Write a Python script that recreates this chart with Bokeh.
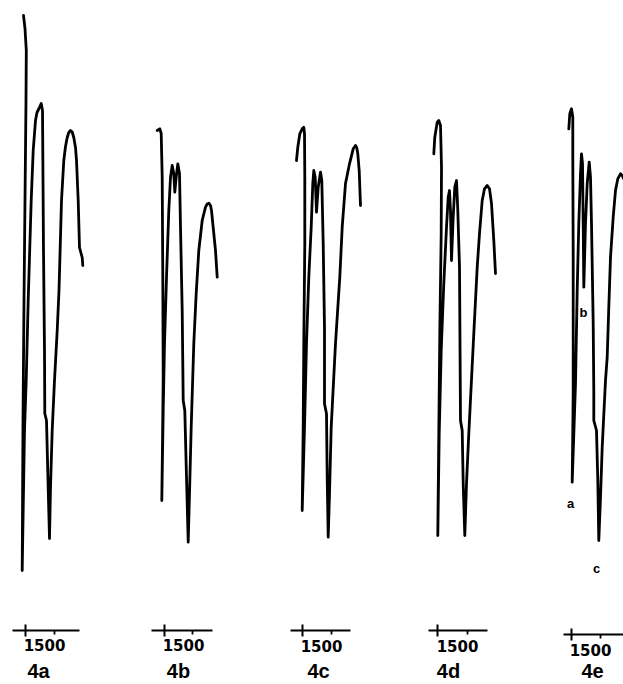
from bokeh.plotting import figure
from bokeh.models import Range1d
from bokeh.core.properties import value
from bokeh.embed import file_html
from bokeh.resources import INLINE

# ---- data (picture coordinates: x to the right, y downward) ----
panel_names = ["4a", "4b", "4c", "4d", "4e"]
tick_label = "1500"

x_4a = [23, 24.5, 25.8, 25.5, 24.5, 23.5, 22.5, 21.7, 23, 24, 25.7, 27.7, 30.7, 32.7, 35, 36.5, 38.5,
        40.7, 42, 42.3, 43, 44, 44.3, 46, 47.5, 49, 50, 51.7, 54, 56.7, 58.5, 61, 63.3, 65, 66.7,
        68.3, 70, 71.7, 73.3, 75, 76, 77.7, 79, 81.7, 82.3]
y_4a = [15, 28, 50, 100, 200, 300, 420, 570, 490, 430, 380, 300, 200, 150, 120, 112, 108,
        103, 110, 150, 250, 350, 413, 420, 480, 538, 487, 430, 380, 330, 290, 200, 160, 146, 137,
        132, 130, 131.5, 137, 147, 160, 200, 247, 257, 265]

x_4b = [156.7, 159.3, 160.7, 161.7, 162.3, 162.7, 162, 161.3, 162.7, 164, 166, 168.3, 170,
        171.7, 173.3, 174.3, 175.7, 177.3, 179, 180, 181.7, 182.7, 184.3, 186, 187.7, 189,
        190.7, 193.3, 195.7, 198.3, 201.7, 205, 206.7, 208.3, 210, 211, 213.3, 215, 216.7]
y_4b = [130, 128.3, 133, 176.7, 276.7, 376.7, 443, 500, 410, 343, 277, 210, 177,
        165, 173, 191.7, 176.7, 163.3, 173, 226.7, 310, 400, 410, 476.7, 541.7, 493,
        426.7, 343, 293, 250, 220, 206.7, 203.5, 202.7, 205, 210, 233, 250, 276.7]

x_4c = [296, 297.3, 299.3, 301.7, 303.3, 304, 304.3, 304.3, 303.3, 302.7, 301.7, 304, 306,
        308.3, 310.7, 312.3, 313.3, 314.7, 316, 317.7, 320, 321.3, 322.7, 324, 324, 326,
        326.7, 327.7, 329, 330.7, 335, 339.3, 341.7, 345, 349, 352.7, 355, 356.3, 357.3, 358.7, 360]
y_4c = [160, 146.7, 133.3, 128.3, 126.7, 133, 176.7, 243, 343, 426.7, 510, 426.7, 343,
        276.7, 226.7, 183, 170, 176.7, 211.7, 186.7, 171.7, 180, 243, 326.7, 403.3, 413.3,
        476.7, 536.7, 493, 426.7, 343, 276.7, 226.7, 183, 163.3, 148.3, 145, 147.5, 153.3, 170, 205]

x_4d = [433.3, 434.3, 436.7, 438.3, 440, 441, 440.7, 439.3, 438.3, 437.3, 438.7, 440.7,
        443.3, 446, 447.7, 449, 450, 451, 452.7, 454.3, 456, 457.3, 459, 460, 461.7, 462.7,
        464.3, 466, 468.3, 473.3, 476.7, 479, 481.7, 484, 486.7, 489, 491, 493.3, 495]
y_4d = [153.3, 136.7, 121.7, 120, 125, 166.7, 233, 333, 433, 535, 433, 350,
        283, 226.7, 196.7, 190, 210, 260, 216.7, 186.7, 180, 210, 266.7, 420, 430, 483,
        535, 483, 433, 333, 266.7, 233, 200, 188.3, 185, 188.3, 203, 240, 273]

x_4e = [568.3, 569.3, 571, 572.3, 572.3, 572.7, 572.7, 572.3, 571.7, 575, 576.7, 578.3, 580,
        581, 582, 582.7, 583.3, 585, 586.7, 588.7, 590, 591, 592.7, 593.3, 593.3, 596, 597.3,
        598.3, 600, 601.7, 605, 606.7, 608.3, 610, 612.7, 615, 617.3, 620, 621.7, 623]
y_4e = [128.3, 113.3, 108.3, 116.7, 156.7, 256.7, 390, 430, 481.7, 383, 290, 223, 173,
        153.3, 163, 223, 286.7, 223, 183, 161.7, 176.7, 223, 323, 390, 420, 430, 480,
        540, 496.7, 446.7, 380, 356.7, 306.7, 256.7, 216.7, 190, 178.3, 173.3, 175, 178]

traces_x = [x_4a, x_4b, x_4c, x_4d, x_4e]
traces_y = [y_4a, y_4b, y_4c, y_4d, y_4e]

# scale bars under each spectrum
axis_x0 = [12, 151, 290, 428, 563]
axis_x1 = [79, 212, 350, 487, 623]
axis_y = [630, 630, 630, 630, 634]
tick1500_x = [25, 164, 302, 437, 571]
minor_tick_x = [54, 192, 331, 467, 600]
tick_label_x = [44, 183, 321, 457, 590]
tick_label_y = [644, 644, 645, 645, 649]
panel_label_x = [38, 178, 318, 448, 592]
panel_label_y = [670, 670, 670, 670, 670]

# band labels on 4e
band_labels = ["a", "b", "c"]
band_label_x = [570, 583, 596]
band_label_y = [503, 312, 568]

# ---- figure ----
p = figure(width=623, height=684, x_range=Range1d(0, 623), y_range=Range1d(684, 0),
           x_axis_type=None, y_axis_type=None, toolbar_location=None,
           output_backend="svg", min_border=0)
p.grid.visible = False
p.outline_line_color = None
p.background_fill_color = "white"
p.border_fill_color = "white"

for xs, ys in zip(traces_x, traces_y):
    p.line(xs, ys, line_color="black", line_width=2.8, line_join="round", line_cap="round")

# scale bars
p.segment(x0=axis_x0, y0=axis_y, x1=axis_x1, y1=axis_y, line_color="black", line_width=1.8)
p.segment(x0=tick1500_x, y0=[v - 6 for v in axis_y], x1=tick1500_x, y1=[v + 6 for v in axis_y],
          line_color="black", line_width=2)
p.segment(x0=minor_tick_x, y0=axis_y, x1=minor_tick_x, y1=[v + 4 for v in axis_y],
          line_color="black", line_width=1.8)

p.text(x=tick_label_x, y=tick_label_y, text=[tick_label] * len(tick_label_x),
       text_font=value("DejaVu Sans"), text_font_style="bold", text_font_size="15px",
       text_align="center", text_baseline="middle", text_color="black")

p.text(x=panel_label_x, y=panel_label_y, text=panel_names,
       text_font=value("Liberation Sans"), text_font_style="bold", text_font_size="20px",
       text_align="center", text_baseline="middle", text_color="black")

p.text(x=band_label_x, y=band_label_y, text=band_labels,
       text_font=value("Liberation Sans"), text_font_style="bold", text_font_size="13px",
       text_align="center", text_baseline="middle", text_color="black")

open("out.html", "w").write(file_html(p, INLINE))
